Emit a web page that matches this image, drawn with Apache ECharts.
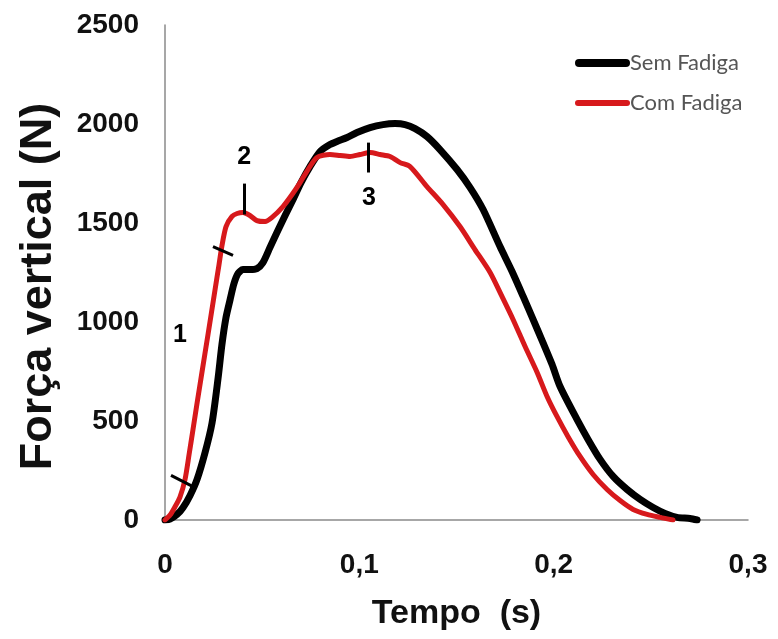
<!DOCTYPE html>
<html>
<head>
<meta charset="utf-8">
<script src="https://cdn.jsdelivr.net/npm/echarts@6/dist/echarts.min.js"></script>
<style>
  html, body { margin: 0; padding: 0; background: #fff; }
  #chart { width: 778px; height: 639px; }
</style>
</head>
<body>
<div id="chart"></div>
<script>
// Vertical ground reaction force over time, without and with fatigue
const seriesNames = ['Sem Fadiga', 'Com Fadiga'];

const timeSem = [0, 0.0026, 0.0062, 0.0093, 0.0129, 0.0165, 0.0206, 0.0242, 0.0273, 0.0293, 0.0314, 0.0335, 0.0355, 0.0376, 0.0401, 0.0437, 0.0473, 0.0504, 0.054, 0.0576, 0.0618, 0.0659, 0.07, 0.0746, 0.0798, 0.0849, 0.0885, 0.0937, 0.0988, 0.1055, 0.1122, 0.1184, 0.1235, 0.1287, 0.1348, 0.1415, 0.1503, 0.157, 0.1637, 0.1724, 0.1786, 0.1843, 0.1894, 0.1945, 0.1992, 0.2033, 0.212, 0.2177, 0.2239, 0.2306, 0.2378, 0.2445, 0.2512, 0.2573, 0.2635, 0.2702, 0.2738];
const forceSem = [0, 5, 28, 63, 124, 205, 340, 490, 715, 886, 1023, 1113, 1194, 1245, 1265, 1265, 1270, 1300, 1376, 1452, 1538, 1619, 1704, 1785, 1861, 1896, 1912, 1932, 1957, 1982, 1997, 2002, 1997, 1977, 1937, 1871, 1770, 1679, 1568, 1381, 1255, 1129, 1013, 896, 785, 674, 508, 407, 306, 220, 154, 104, 63, 33, 13, 8, 0];

const timeCom = [0, 0.0026, 0.0051, 0.0077, 0.0103, 0.0124, 0.0144, 0.0165, 0.019, 0.0221, 0.0257, 0.0278, 0.0293, 0.0314, 0.0345, 0.0371, 0.0401, 0.0437, 0.0473, 0.0515, 0.0551, 0.0607, 0.0654, 0.0695, 0.0736, 0.0782, 0.0849, 0.0901, 0.0952, 0.1004, 0.1055, 0.1107, 0.1158, 0.121, 0.1261, 0.1348, 0.1431, 0.1518, 0.1595, 0.1673, 0.1734, 0.1791, 0.1853, 0.1915, 0.1966, 0.2017, 0.2074, 0.2136, 0.2203, 0.2275, 0.2342, 0.2409, 0.2481, 0.2548, 0.2614];
const forceCom = [0, 25, 66, 116, 205, 331, 457, 590, 745, 935, 1160, 1290, 1385, 1482, 1533, 1548, 1553, 1538, 1512, 1507, 1528, 1583, 1644, 1704, 1770, 1831, 1846, 1841, 1836, 1846, 1856, 1846, 1836, 1805, 1785, 1684, 1593, 1482, 1366, 1250, 1129, 1013, 876, 745, 624, 523, 421, 321, 230, 154, 98, 53, 28, 13, 0];

const yTicks = [0, 500, 1000, 1500, 2000, 2500];
const xTicks = [0, 0.1, 0.2, 0.3];

// Phase markers (time, force) of the short strokes and their numbers
const phaseStrokes = [
  [[0.0031, 225], [0.0144, 169]],
  [[0.0247, 1381], [0.035, 1336]],
  [[0.0406, 1543], [0.0406, 1699]],
  [[0.1045, 1755], [0.1045, 1906]]
];
const phaseLabels = [
  { text: '1', at: [0.0077, 932] },
  { text: '2', at: [0.0407, 1831] },
  { text: '3', at: [0.105, 1624] }
];

const toPairs = (ts, fs) => ts.map((t, i) => [t, fs[i]]);

const chart = echarts.init(document.getElementById('chart'), null, { renderer: 'canvas' });

const labelFont = 'Liberation Sans, Arial, sans-serif';

chart.setOption({
  backgroundColor: '#ffffff',
  animation: false,
  grid: { left: 165, right: 30, top: 25, bottom: 119, containLabel: false },
  legend: {
    orient: 'vertical',
    left: 570,
    top: 47,
    itemGap: 18,
    itemWidth: 55,
    itemHeight: 14,
    textStyle: { fontFamily: 'Lato, Carlito, sans-serif', fontSize: 22, color: '#555555', padding: [0, 0, 0, -5] },
    data: [
      { name: seriesNames[0], icon: 'path://M4,0 L51,0 A4,4 0 0 1 51,8 L4,8 A4,4 0 0 1 4,0 Z', itemStyle: { color: '#000' } },
      { name: seriesNames[1], icon: 'path://M3,0 L52,0 A3,3 0 0 1 52,6 L3,6 A3,3 0 0 1 3,0 Z', itemStyle: { color: '#d7191c' } }
    ]
  },
  xAxis: {
    type: 'value',
    min: 0,
    max: 0.3,
    interval: 0.1,
    name: 'Tempo  (s)',
    nameLocation: 'middle',
    nameGap: 77,
    nameTextStyle: { fontFamily: labelFont, fontSize: 34, fontWeight: 'bold', color: '#111' },
    axisLine: { show: true, lineStyle: { color: '#8a8a8a', width: 1.5 } },
    axisTick: { show: false },
    splitLine: { show: false },
    axisLabel: {
      margin: 31,
      fontFamily: labelFont,
      fontSize: 28,
      fontWeight: 'bold',
      color: '#111',
      formatter: v => {
        const hit = xTicks.find(t => Math.abs(t - v) < 1e-9);
        return hit === undefined ? '' : String(hit).replace('.', ',');
      }
    }
  },
  yAxis: {
    type: 'value',
    min: 0,
    max: 2500,
    interval: 500,
    name: 'Força vertical (N)',
    nameLocation: 'middle',
    nameRotate: 90,
    nameGap: 104,
    nameTextStyle: { fontFamily: labelFont, fontSize: 45, fontWeight: 'bold', color: '#111', padding: [0, 28, 0, 0] },
    axisLine: { show: true, lineStyle: { color: '#8a8a8a', width: 1.5 } },
    axisTick: { show: false },
    splitLine: { show: false },
    axisLabel: {
      margin: 26,
      fontFamily: labelFont,
      fontSize: 28,
      fontWeight: 'bold',
      color: '#111',
      formatter: v => (yTicks.includes(v) ? String(v) : '')
    }
  },
  series: [
    {
      name: seriesNames[0],
      type: 'line',
      data: toPairs(timeSem, forceSem),
      showSymbol: false,
      symbol: 'none',
      smooth: 0.25,
      z: 2,
      lineStyle: { color: '#000000', width: 7, cap: 'round', join: 'round' },
      itemStyle: { color: '#000000' }
    },
    {
      name: seriesNames[1],
      type: 'line',
      data: toPairs(timeCom, forceCom),
      showSymbol: false,
      symbol: 'none',
      smooth: 0.25,
      z: 3,
      lineStyle: { color: '#d7191c', width: 5, cap: 'round', join: 'round' },
      itemStyle: { color: '#d7191c' },
      markLine: {
        silent: true,
        symbol: ['none', 'none'],
        z: 5,
        label: { show: false },
        lineStyle: { color: '#000', width: 3, type: 'solid' },
        emphasis: { disabled: true },
        data: phaseStrokes.map(([a, b]) => [{ coord: a }, { coord: b }])
      },
      markPoint: {
        silent: true,
        z: 6,
        symbol: 'circle',
        symbolSize: 1,
        itemStyle: { color: 'rgba(0,0,0,0)' },
        label: {
          show: true,
          position: 'inside',
          fontFamily: labelFont,
          fontSize: 25,
          fontWeight: 'bold',
          color: '#000'
        },
        data: phaseLabels.map(p => ({
          coord: p.at,
          value: p.text,
          label: { formatter: p.text }
        }))
      }
    }
  ]
});
</script>
</body>
</html>
